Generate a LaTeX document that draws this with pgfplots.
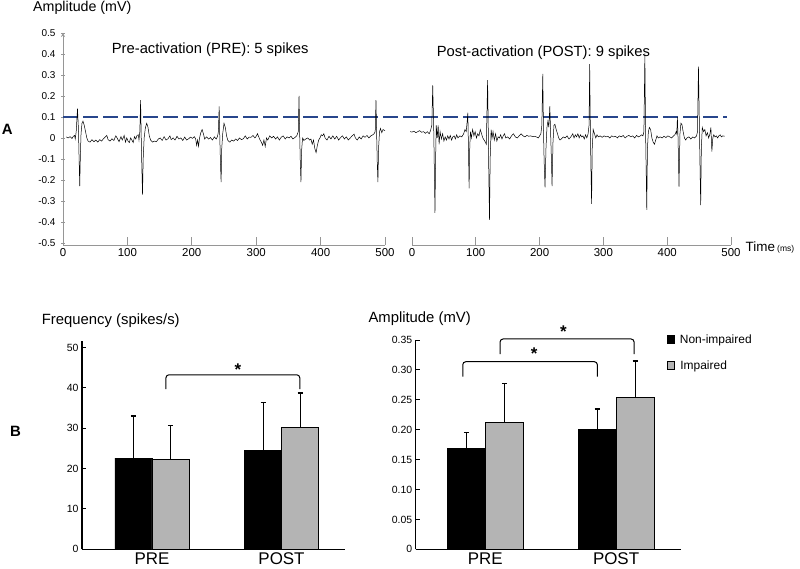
\documentclass[border=0pt]{standalone}
\usepackage{pgfplots}
\pgfplotsset{compat=1.18}
\usepackage{fontspec}
\setmainfont{Liberation Sans}
\definecolor{thresh}{RGB}{40,70,140}
\definecolor{barg}{RGB}{180,180,180}
\definecolor{axg}{RGB}{150,150,150}
\newcommand{\fs}[1]{\fontsize{#1}{#1}\selectfont}
\pgfplotsset{
  trace/.style={
    scale only axis, height=212bp, xmin=0, xmax=500, ymin=-0.51, ymax=0.5,
    axis x line=bottom, axis line style={axg, line width=0.8bp, -},
    tick style={axg, line width=0.7bp}, tick align=inside,
    xtick={0,100,200,300,400,500}, major tick length=8bp,
    x tick label style={font=\fs{11.5}},
    y tick label style={font=\fs{10}},
    clip=false, /pgf/number format/assume math mode=true,
  },
  bars/.style={
    scale only axis, ymin=0,
    axis x line=bottom, axis y line=left, axis line style={black, line width=1.3bp, -},
    ybar=0pt, xtick={0,1}, xticklabels={PRE,POST},
    x tick label style={font=\fs{17}}, xtick style={draw=none},
    ytick style={black, line width=1bp}, tick align=inside, major tick length=4bp,
    y tick label style={font=\fs{10.5}},
    clip=false, /pgf/number format/assume math mode=true,
  },
  ebar/.style={error bars/.cd, y dir=plus, y explicit,
    error bar style={black, line width=0.9bp},
    error mark options={black, line width=1.6bp, mark size=2.5bp, rotate=90}},
}
\begin{document}
\begin{tikzpicture}
\fill[white] (0bp,0bp) rectangle (800bp,-569bp);

% A: raw traces
\begin{axis}[trace, at={(63bp,-245bp)}, anchor=south west, width=322bp,
  axis y line=left,
  ytick={-0.5,-0.4,-0.3,-0.2,-0.1,0,0.1,0.2,0.3,0.4,0.5},
  yticklabels={-0.5,-0.4,-0.3,-0.2,-0.1,0,0.1,0.2,0.3,0.4,0.5},
  ytick style={/pgfplots/major tick length=3bp}]
\addplot[thresh, line width=1.8bp, dash pattern=on 15bp off 5bp] coordinates {(0,0.1) (1031,0.1)};
\addplot[black, line width=0.5bp] coordinates {
(5,0.005)(8,0.0)(11,0.006)(14,-0.003)(16,0.008)(18,0.012)(19,-0.005)(20.5,0.03)(22.5,0.14)(24,0.04)(25,-0.1)(26,-0.23)(27,-0.08)(28,0.02)(29.5,0.07)(31,0.08)(33,0.06)(35,0.03)(37,0.0)(39,-0.015)(42,-0.02)(45,-0.008)(48,-0.018)(51,-0.01)(54,-0.02)(57,-0.008)(60,-0.015)(63,-0.003)(66,0.006)(68,0.012)(70,-0.008)(73,-0.015)(76,-0.004)(79,-0.012)(82,0.01)(84,0.0)(87,-0.018)(90,0.006)(92,-0.01)(95,0.012)(97,-0.02)(99,0.0)(101,-0.015)(103,-0.022)(105,0.0)(107,-0.01)(109,-0.022)(111,0.006)(113,-0.005)(115,0.012)(117,0.015)(118,-0.01)(119.3,0.03)(120.5,0.18)(121.5,0.0)(122.5,-0.15)(123.5,-0.27)(124.5,-0.1)(126,0.0)(128,0.05)(130,0.07)(132,0.05)(134,0.01)(136,-0.01)(139,-0.02)(142,-0.015)(145,-0.018)(148,-0.005)(151,0.0)(154,-0.012)(157,0.006)(160,-0.01)(163,-0.004)(166,0.01)(168,-0.008)(171,0.0)(174,-0.01)(177,0.008)(180,-0.005)(183,0.0)(186,-0.012)(189,0.004)(192,-0.01)(195,-0.004)(198,0.004)(201,-0.002)(204,0.006)(206,-0.005)(207.5,-0.035)(209,-0.01)(210.5,-0.04)(212,0.0)(214,0.025)(216,0.04)(218,0.02)(220,-0.005)(223,0.005)(226,-0.005)(229,0.002)(232,-0.01)(235,0.005)(238,-0.005)(240,0.008)(241.3,0.03)(242.5,0.15)(243.5,0.0)(244.5,-0.12)(245.5,-0.21)(246.5,-0.05)(248,0.02)(250,0.07)(252,0.05)(254,0.01)(256,-0.012)(259,-0.02)(262,-0.01)(265,-0.015)(268,-0.005)(271,-0.012)(274,0.0)(277,-0.008)(280,-0.004)(283,0.01)(286,-0.005)(289,0.004)(292,0.003)(295,0.012)(298,0.0)(300,0.008)(302,0.02)(304,0.005)(306,-0.01)(308,-0.02)(310,-0.035)(312,-0.01)(314,-0.04)(316,0.0)(318,-0.01)(321,0.01)(324,0.0)(327,0.008)(330,-0.005)(333,0.005)(336,-0.01)(339,0.004)(342,0.01)(345,-0.005)(348,0.005)(351,0.0)(354,0.008)(357,-0.005)(360,0.002)(363,0.01)(365.3,0.03)(366.5,0.2)(367.5,0.02)(368.5,-0.12)(369.5,-0.21)(370.5,-0.06)(372,0.0)(374,-0.012)(377,-0.005)(380,0.0)(383,-0.01)(385,-0.005)(387,-0.03)(389,-0.01)(391,-0.05)(393,-0.07)(395,-0.035)(397,-0.01)(399,0.0)(401,0.015)(403,0.01)(405,0.02)(407,0.0)(410,-0.01)(413,0.008)(416,-0.005)(419,0.01)(422,-0.005)(425,0.008)(428,-0.01)(431,0.002)(434,0.01)(437,-0.005)(440,0.005)(443,-0.01)(446,0.0)(449,0.01)(452,0.018)(454,0.0)(457,-0.01)(460,0.005)(463,-0.005)(466,0.01)(469,0.003)(472,0.012)(475,0.0)(478,0.01)(481,0.015)(483,0.02)(484.8,0.03)(486,0.18)(487,0.02)(488,-0.12)(489,-0.21)(490,-0.05)(491.5,0.03)(493,0.045)(495,0.025)(497,0.04)(500,0.035)
};
\end{axis}

\begin{axis}[trace, at={(412bp,-245bp)}, anchor=south west, width=319bp,
  axis y line=none]
\addplot[black, line width=0.5bp] coordinates {
(-3,0.03)(0,0.028)(3,0.032)(6,0.025)(9,0.03)(12,0.035)(15,0.027)(18,0.03)(21,0.022)(24,0.03)(27,0.02)(29,0.035)(31,0.06)(32.5,0.25)(34,0.05)(35,-0.15)(36,-0.357)(37,-0.1)(38,0.06)(39.5,0.0)(41,0.06)(42.5,-0.03)(44,0.03)(46,-0.005)(48,0.02)(50,-0.015)(52,0.005)(54,-0.01)(56,0.01)(58,-0.005)(60,0.012)(62,-0.01)(64,0.005)(66,0.01)(68,-0.005)(70,0.015)(72,0.0)(75,0.01)(78,0.005)(81,0.02)(83,0.04)(85,0.03)(86.5,0.08)(87.5,0.12)(88.5,-0.05)(89.5,-0.24)(90.5,-0.05)(91.5,0.03)(93,0.0)(95,0.04)(97,0.01)(99,0.03)(101,0.0)(103,0.02)(105,0.01)(107,0.04)(109,0.02)(111,0.0)(113,-0.01)(115,-0.02)(116.5,-0.03)(118.5,0.276)(119.5,0.05)(120.5,-0.2)(121.5,-0.39)(122.5,-0.1)(124,0.04)(125.5,0.0)(127,0.03)(129,-0.01)(131,0.02)(133,-0.015)(135,0.005)(137,0.0)(139,0.015)(141,-0.005)(143,0.01)(145,0.02)(147,0.0)(150,0.005)(153,-0.005)(156,0.01)(159,0.02)(162,0.005)(165,0.0)(168,0.01)(171,0.02)(174,0.01)(177,0.005)(180,0.012)(183,0.008)(186,0.01)(189,0.006)(192,0.008)(195,0.005)(198,0.0)(200,0.01)(202,0.02)(203.5,0.06)(205,0.305)(206,0.05)(207,-0.1)(208.5,-0.235)(210,-0.05)(211.5,0.05)(213,0.08)(214.5,0.05)(216,0.152)(217.5,0.0)(218.5,-0.1)(219.5,-0.23)(221,-0.02)(222.5,0.06)(224,0.065)(226,0.04)(228,0.02)(230,0.0)(232,-0.01)(234,-0.005)(237,0.005)(240,0.0)(243,0.01)(246,-0.005)(249,0.005)(252,0.02)(254,0.0)(256,0.015)(258,0.005)(260,0.02)(262,0.0)(264,0.015)(266,0.005)(268,0.01)(270,-0.005)(272,0.015)(274,0.0)(276,0.02)(277.5,0.06)(278.5,0.352)(279.5,0.05)(280.5,-0.15)(281.5,-0.314)(282.5,-0.05)(284,0.04)(286,0.02)(288,0.0)(290,0.015)(292,0.005)(295,0.01)(298,0.003)(301,0.01)(304,0.005)(307,0.008)(310,0.0)(313,0.01)(316,0.005)(319,0.008)(322,0.0)(325,0.01)(328,0.005)(331,0.012)(334,0.0)(337,0.008)(340,0.012)(343,0.005)(346,0.01)(349,0.0)(352,0.012)(355,0.005)(358,0.01)(360,0.015)(362,0.01)(363.5,0.03)(365,0.403)(366,0.05)(367,-0.15)(368,-0.343)(369,-0.05)(370.5,0.03)(372,0.05)(374,0.04)(376,0.0)(378,-0.02)(380,-0.03)(382,-0.01)(384,0.01)(386,0.0)(389,0.005)(392,0.0)(395,0.008)(398,0.002)(401,0.01)(404,0.005)(407,0.0)(410,0.01)(412,0.015)(414,0.03)(415,0.02)(416,0.099)(417,0.0)(418.5,-0.232)(420,0.02)(421.5,0.07)(423,0.065)(425,0.03)(427,0.0)(429,-0.01)(431,0.0)(434,0.005)(437,-0.005)(440,0.005)(443,0.0)(446,0.01)(447.5,0.03)(449,0.34)(450.5,0.05)(451.5,-0.15)(452.5,-0.32)(453.5,-0.05)(455,0.05)(457,0.03)(459,0.04)(461,0.01)(463,0.025)(465,0.0)(467,0.02)(468.5,0.05)(470,-0.065)(471.5,0.0)(473,0.015)(475,0.005)(477,0.01)(479,0.0)(481,0.01)(483,0.015)(485,0.005)(487,0.01)(490,0.008)
};
\end{axis}

% B: frequency
\begin{axis}[bars, at={(82bp,-549.3bp)}, anchor=south west, width=263bp, height=208.6bp,
  xmin=-0.54, xmax=1.49, ymax=51.7, bar width=37bp,
  ytick={0,10,20,30,40,50}]
\addplot[fill=black, draw=black, line width=0.8bp, ebar] coordinates {(0,22.6) +- (0,10.5) (1,24.5) +- (0,11.9)};
\addplot[fill=barg, draw=black, line width=0.8bp, ebar] coordinates {(0,22.3) +- (0,8.4) (1,30.3) +- (0,8.5)};
\draw[black, line width=1bp, rounded corners=3bp] (axis cs:0.108,39.7) -- (axis cs:0.108,43.25) -- (axis cs:1.141,43.25) -- (axis cs:1.141,39.7);
\node[font=\bfseries\fs{17}] at (axis cs:0.663,44.6) {*};
\end{axis}

% B: amplitude
\begin{axis}[bars, at={(415.7bp,-549.3bp)}, anchor=south west, width=265.3bp, height=209.3bp,
  xmin=-0.533, xmax=1.497, ymax=0.35, bar width=38bp,
  ytick={0,0.05,0.1,0.15,0.2,0.25,0.3,0.35},
  yticklabels={0,0.05,0.10,0.15,0.20,0.25,0.30,0.35},
  legend style={at={(rel axis cs:0.945,1.035)}, anchor=north west, draw=none, fill=none,
    inner sep=0pt, row sep=13bp, font=\fs{12}, nodes={inner ysep=1.5bp, inner xsep=2.5bp}},
  legend cell align=left,
  legend image code/.code={\draw[#1, line width=0.7bp] (0bp,-3.8bp) rectangle (7.6bp,3.8bp);}]
\addplot[fill=black, draw=black, line width=0.8bp, ebar] coordinates {(0,0.168) +- (0,0.027) (1,0.200) +- (0,0.035)};
\addplot[fill=barg, draw=black, line width=0.8bp, ebar] coordinates {(0,0.212) +- (0,0.065) (1,0.2535) +- (0,0.0615)};
\legend{\hspace*{2.5bp}Non-impaired, \hspace*{3bp}Impaired}
\draw[black, line width=1bp, rounded corners=3bp] (axis cs:-0.173,0.2886) -- (axis cs:-0.173,0.3137) -- (axis cs:0.857,0.3137) -- (axis cs:0.857,0.2886);
\draw[black, line width=1bp, rounded corners=3bp] (axis cs:0.1125,0.3266) -- (axis cs:0.1125,0.3517) -- (axis cs:1.138,0.3517) -- (axis cs:1.138,0.3266);
\node[font=\bfseries\fs{17}] at (axis cs:0.373,0.3265) {*};
\node[font=\bfseries\fs{17}] at (axis cs:0.597,0.3635) {*};
\end{axis}

% texts
\begin{scope}[every node/.style={inner sep=0pt, anchor=base west}]
\node[font=\fs{14.3}] at (33bp,-11.7bp) {Amplitude (mV)};
\node[font=\fs{14.8}] at (111.7bp,-53.3bp) {Pre-activation (PRE): 5 spikes};
\node[font=\fs{14.8}] at (436.7bp,-56.7bp) {Post-activation (POST): 9 spikes};
\node[font=\bfseries\fs{15}] at (1.7bp,-134bp) {A};
\node[font=\bfseries\fs{15}] at (10bp,-436bp) {B};
\node[font=\fs{14.9}] at (41.7bp,-324bp) {Frequency (spikes/s)};
\node[font=\fs{14.9}] at (368.3bp,-322.7bp) {Amplitude (mV)};
\node[font=\fs{13.5}] at (745.5bp,-251.7bp) {Time};
\node[font=\fs{8.5}] at (777bp,-251.7bp) {(ms)};
\end{scope}
\pgfresetboundingbox
\path[use as bounding box] (0bp,0bp) rectangle (800bp,-569bp);
\end{tikzpicture}
\end{document}
